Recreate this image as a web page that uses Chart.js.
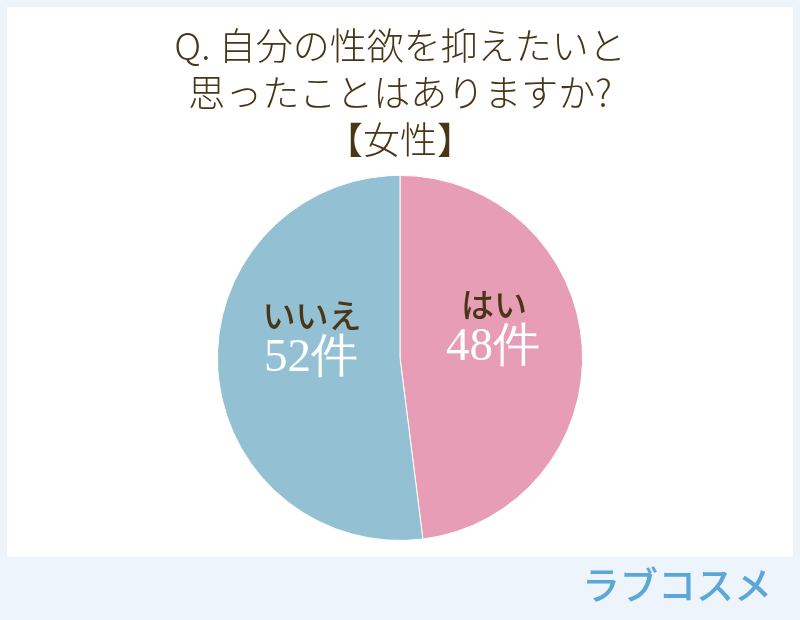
<!DOCTYPE html>
<html>
<head>
<meta charset="utf-8">
<script src="https://cdn.jsdelivr.net/npm/chart.js@4"></script>
<style>
  html, body { margin: 0; padding: 0; background: #eef4fc; }
  #wrap { width: 800px; height: 620px; position: relative; }
</style>
</head>
<body>
<div id="wrap"><canvas id="myPie" width="800" height="620"></canvas></div>
<script>
var titleLines = ["Q. 自分の性欲を抑えたいと", "思ったことはありますか?", "【女性】"];
var labels = ["はい", "いいえ"];
var counts = [48, 52];
var unit = "件";
var colors = ["#e89db7", "#93c0d2"];
var brand = "ラブコスメ";

// background panel + brand mark
var panelPlugin = {
    id: 'panel',
    beforeDraw: function(chart) {
        var ctx = chart.ctx;
        ctx.save();
        ctx.fillStyle = '#eef4fc';
        ctx.fillRect(0, 0, chart.width, chart.height);
        ctx.fillStyle = '#ffffff';
        ctx.fillRect(7, 7, 786, 550);
        ctx.restore();
    },
    afterDraw: function(chart) {
        var ctx = chart.ctx;
        ctx.save();
        ctx.fillStyle = '#5ba8d8';
        ctx.font = '500 38px "Noto Sans CJK JP"';
        ctx.textAlign = 'right';
        ctx.textBaseline = 'middle';
        ctx.fillText(brand, 772, 585);
        ctx.restore();
    }
};

// labels inside slices
var sliceLabels = {
    id: 'sliceLabels',
    afterDatasetsDraw: function(chart) {
        var ctx = chart.ctx;
        var meta = chart.getDatasetMeta(0);
        ctx.save();
        ctx.textAlign = 'center';
        meta.data.forEach(function(arc, i) {
            var mid = (arc.startAngle + arc.endAngle) / 2;
            var r = arc.outerRadius * 0.5;
            var x = arc.x + Math.cos(mid) * r;
            var y = arc.y + Math.sin(mid) * r;
            ctx.textBaseline = 'middle';
            ctx.fillStyle = '#4a3516';
            ctx.font = '500 33px "Noto Sans CJK JP"';
            ctx.fillText(labels[i], x + 3, y - 48);
            ctx.fillStyle = '#ffffff';
            ctx.font = '47px "Liberation Serif"';
            ctx.fillText(counts[i] + unit, x + 2, y - 5);
        });
        ctx.restore();
    }
};

var graphID = document.getElementById("myPie").getContext("2d");

var graphConfig = {
    type: 'pie',
    data: {
        labels: labels,
        datasets: [{
            data: counts,
            backgroundColor: colors,
            borderColor: '#ffffff',
            borderWidth: 1
        }]
    },
    options: {
        responsive: false,
        animation: false,
        layout: { padding: { top: 0, bottom: 79, left: 0, right: 0 } },
        plugins: {
            legend: { display: false },
            tooltip: { enabled: false },
            title: {
                display: true,
                text: titleLines,
                color: '#4a3516',
                font: { family: '"Noto Sans CJK JP"', size: 37, weight: '300', lineHeight: 1.26 },
                padding: { top: 23, bottom: 12 }
            }
        }
    },
    plugins: [panelPlugin, sliceLabels]
};

var myChart = new Chart(graphID, graphConfig);
</script>
</body>
</html>
